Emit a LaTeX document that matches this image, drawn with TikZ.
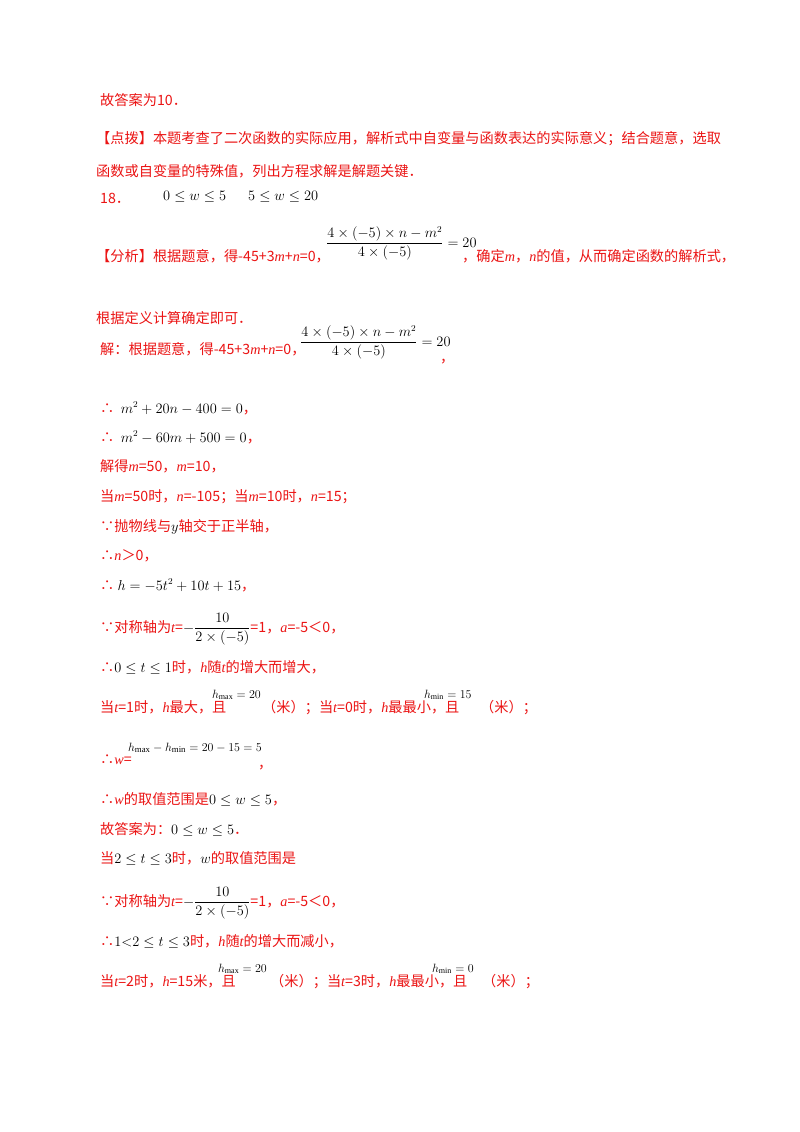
\documentclass[tikz,border=0pt]{standalone}
\usepackage{amsmath}
\usepackage{fontspec}
\setmainfont{Liberation Serif}
\newfontfamily\cjk{Noto Sans CJK SC}
\newfontfamily\lsi{Liberation Serif}
\newcommand{\vi}[1]{{\lsi\itshape #1}}
\newcommand{\mk}[1]{\textcolor{black}{\fontsize{13.5}{15}\selectfont$#1$}}
\definecolor{rd}{RGB}{235,20,20}
\begin{document}
\begin{tikzpicture}[x=1pt,y=-1pt,
  ln/.style={anchor=base west,inner sep=0pt,font=\fontsize{14.2}{16}\selectfont\cjk,text=rd},
  mth/.style={anchor=base west,inner sep=0pt,font=\fontsize{13.5}{15}\selectfont,text=black},
  sm/.style={anchor=base west,inner sep=0pt,font=\fontsize{11.5}{13}\selectfont,text=black}]
\useasboundingbox[fill=white] (0,0) rectangle (800,1132);
\node[ln] (l1) at (100,105) {故答案为10．};
\node[ln] (l2) at (96,143) {【点拨】本题考查了二次函数的实际应用，解析式中自变量与函数表达的实际意义；结合题意，选取};
\node[ln] (l3) at (96,176) {函数或自变量的特殊值，列出方程求解是解题关键．};
\node[ln] (l4) at (100,203) {18．};
\node[mth] (m4a) at (163,200) {$0\le w\le 5$};
\node[mth] (m4b) at (248,200) {$5\le w\le 20$};
\node[ln] (l5) at (96,261) {【分析】根据题意，得-45+3\vi{m}+\vi{n}=0，};
\node[mth] (m5) at (326,247) {$\dfrac{4\times(-5)\times n-m^2}{4\times(-5)}=20$};
\node[ln] (l5b) at (462,261) {，确定\vi{m}，\vi{n}的值，从而确定函数的解析式，};
\node[ln] (l6) at (96,323) {根据定义计算确定即可．};
\node[ln] (l7) at (100,354) {解：根据题意，得-45+3\vi{m}+\vi{n}=0，};
\node[mth] (m7) at (300,346) {$\dfrac{4\times(-5)\times n-m^2}{4\times(-5)}=20$};
\node[ln] (l7b) at (440,362) {，};
\node[ln] (l8) at (100,413) {∴\ \ \mk{m^2+20n-400=0}，};
\node[ln] (l9) at (100,442) {∴\ \ \mk{m^2-60m+500=0}，};
\node[ln] (l10) at (100,471) {解得\vi{m}=50，\vi{m}=10，};
\node[ln] (l11) at (100,501) {当\vi{m}=50时，\vi{n}=-105；当\vi{m}=10时，\vi{n}=15；};
\node[ln] (l12) at (100,531) {∵抛物线与\mk{y}轴交于正半轴，};
\node[ln] (l13) at (100,560) {∴\vi{n}＞0，};
\node[ln] (l14) at (100,590) {∴\ \mk{h=-5t^2+10t+15}，};
\node[ln] (l15) at (100,632) {∵对称轴为\vi{t}=\mk{-\dfrac{10}{2\times(-5)}}=1，\vi{a}=-5＜0，};
\node[ln] (l16) at (100,672) {∴\mk{0\le t\le 1}时，\vi{h}随\vi{t}的增大而增大，};
\node[ln] (l17) at (100,712) {当\vi{t}=1时，\vi{h}最大，且};
\node[sm] (m17a) at (212,698) {$h_{\max}=20$};
\node[ln] (l17b) at (262,712) {（米）；当\vi{t}=0时，\vi{h}最最小，且};
\node[sm] (m17b) at (424,698) {$h_{\min}=15$};
\node[ln] (l17c) at (480,712) {（米）；};
\node[ln] (l18) at (100,764) {∴\vi{w}=};
\node[sm,font=\fontsize{12.5}{14}\selectfont] (m18) at (128,751) {$h_{\max}-h_{\min}=20-15=5$};
\node[ln] (l18b) at (258,768) {，};
\node[ln] (l19) at (100,804) {∴\vi{w}的取值范围是\mk{0\le w\le5}，};
\node[ln] (l20) at (100,834) {故答案为：\mk{0\le w\le5}．};
\node[ln] (l21) at (100,863) {当\mk{2\le t\le 3}时，\mk{w}的取值范围是};
\node[ln] (l22) at (100,906) {∵对称轴为\vi{t}=\mk{-\dfrac{10}{2\times(-5)}}=1，\vi{a}=-5＜0，};
\node[ln] (l23) at (100,946) {∴\mk{1{<}2\le t\le 3}时，\vi{h}随\vi{t}的增大而减小，};
\node[ln] (l24) at (100,986) {当\vi{t}=2时，\vi{h}=15米，且};
\node[sm] (m24a) at (218,972) {$h_{\max}=20$};
\node[ln] (l24b) at (270,986) {（米）；当\vi{t}=3时，\vi{h}最最小，且};
\node[sm] (m24b) at (432,972) {$h_{\min}=0$};
\node[ln] (l24c) at (482,986) {（米）；};
\end{tikzpicture}
\end{document}
